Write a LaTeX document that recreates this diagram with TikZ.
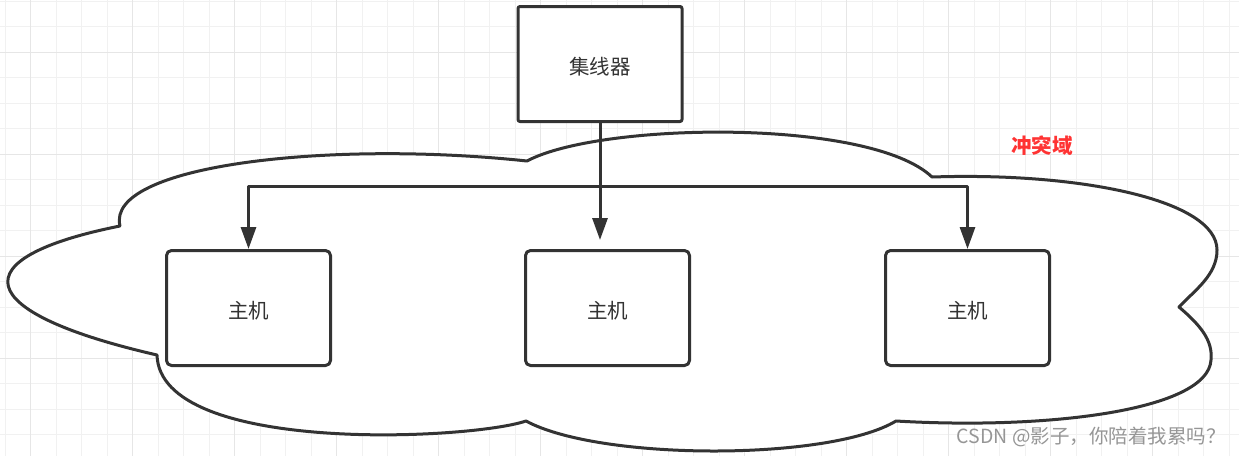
\documentclass[tikz,border=0pt]{standalone}
\usepackage{fontspec}
\usepackage{xcolor}
\usetikzlibrary{arrows.meta}
\newfontfamily\cjk{Noto Sans CJK SC}
\definecolor{inkgray}{RGB}{51,51,51}
\definecolor{gridthin}{RGB}{241,241,241}
\definecolor{gridthick}{RGB}{230,230,230}
\definecolor{domainred}{RGB}{255,51,51}
\definecolor{markgray}{RGB}{150,150,150}

\tikzset{
  boxnode/.style={draw=inkgray,fill=white,line width=3pt,minimum width=164pt,
    minimum height=115pt,inner sep=0pt,text=inkgray,text height=21pt,text depth=0.5pt,
    font=\cjk\fontsize{20.5}{24}\selectfont},
  hostbox/.style={boxnode,rounded corners=5pt},
  hubbox/.style={boxnode,rounded corners=2pt},
  feed/.style={draw=inkgray,line width=3pt,-{Triangle[length=22pt,width=15pt]}},
}

\begin{document}
\begin{tikzpicture}[x=1pt,y=-1pt,line cap=round,line join=round]
  \path[use as bounding box,fill=white] (0,0) rectangle (1239,456);

  % paper grid
  \foreach \i in {0,...,48}
    \draw[color=gridthin,line width=1pt,line cap=butt] ({5.2+25.5*\i},0) -- ({5.2+25.5*\i},456);
  \foreach \j in {0,...,17}
    \draw[color=gridthin,line width=1pt,line cap=butt] (0,{1.3+25.5*\j}) -- (1239,{1.3+25.5*\j});
  \foreach \i in {0,...,11}
    \draw[color=gridthick,line width=1.5pt,line cap=butt] ({30.7+102*\i},0) -- ({30.7+102*\i},456);
  \foreach \j in {0,...,3}
    \draw[color=gridthick,line width=1.5pt,line cap=butt] (0,{52.3+102*\j}) -- (1239,{52.3+102*\j});

  % collision domain cloud
  \draw[draw=inkgray,fill=white,line width=3pt] (120,226)
    .. controls (105,165) and (330,140) .. (527,161)
    .. controls (600,122) and (870,118) .. (932,177)
    .. controls (1080,172) and (1217,200) .. (1217,250)
    .. controls (1217,275) and (1195,290) .. (1179,307)
    .. controls (1200,325) and (1213,340) .. (1211,360)
    .. controls (1208,410) and (1050,430) .. (896,421)
    .. controls (830,461) and (600,461) .. (526,421)
    .. controls (470,440) and (160,455) .. (157,355)
    .. controls (-30,312) and (-40,258) .. cycle;

  \node[hubbox] (hub) at (600,64) {集线器};
  \node[hostbox] (host1) at (248.5,308) {主机};
  \node[hostbox] (host2) at (607.5,308) {主机};
  \node[hostbox] (host3) at (967.5,308) {主机};

  \coordinate (bus) at (600,186);
  \coordinate (tip2) at (600,240);
  \draw[feed] (hub.south) -- (tip2);
  \draw[feed] (bus) -| (host1.north);
  \draw[feed] (bus) -| (host3.north);

  \node[text=domainred,font=\cjk\bfseries\fontsize{20.5}{24}\selectfont]
    (domain) at (1042,146) {冲突域};
  \node[anchor=east,inner sep=0pt,text=markgray,font=\cjk\fontsize{19.5}{22}\selectfont]
    (mark) at (1226,437) {CSDN @影子，你陪着我累吗？};
\end{tikzpicture}
\end{document}
